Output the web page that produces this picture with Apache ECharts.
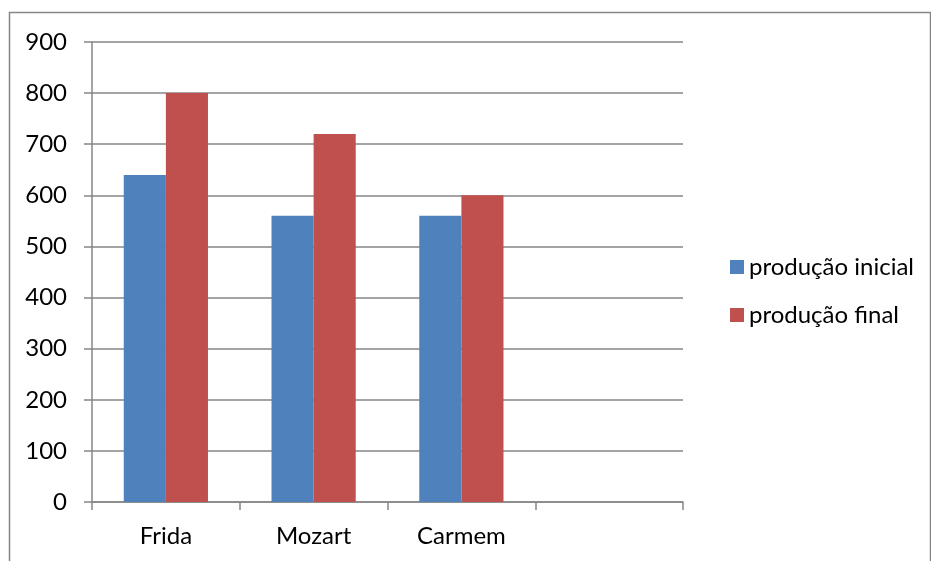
<!DOCTYPE html>
<html>
<head>
<meta charset="utf-8">
<script src="https://cdn.jsdelivr.net/npm/echarts@6/dist/echarts.min.js"></script>
<style>
  html, body { margin: 0; padding: 0; background: #fff; }
  #chart { width: 931px; height: 561px; }
</style>
</head>
<body>
<div id="chart"></div>
<script>
// Production per artist, before and after
var categories = ['Frida', 'Mozart', 'Carmem', ''];
var producaoInicial = [640, 560, 560, null];
var producaoFinal = [800, 720, 600, null];
var seriesNames = ['produção inicial', 'produção final'];
var yTicks = [0, 100, 200, 300, 400, 500, 600, 700, 800, 900];

var FONT = 'Lato, "Open Sans", sans-serif';
var AXIS_GRAY = '#868686';

var chart = echarts.init(document.getElementById('chart'), null, { renderer: 'canvas' });

chart.setOption({
  backgroundColor: '#ffffff',
  animation: false,
  graphic: [{
    // outer chart frame (runs off the right and bottom edges)
    type: 'rect',
    shape: { x: 9.5, y: 12.5, width: 921, height: 600 },
    style: { fill: 'none', stroke: AXIS_GRAY, lineWidth: 1.5 },
    silent: true,
    z: -1
  }],
  grid: { left: 92, top: 42, right: 248, bottom: 59, containLabel: false },
  legend: {
    orient: 'vertical',
    left: 725,
    top: 250,
    itemWidth: 14,
    itemHeight: 14,
    itemGap: 24,
    icon: 'rect',
    textStyle: { fontFamily: FONT, fontSize: 24, color: '#000' },
    data: seriesNames
  },
  xAxis: {
    type: 'category',
    data: categories,
    boundaryGap: true,
    axisLine: { lineStyle: { color: AXIS_GRAY, width: 1.5 } },
    axisTick: { show: true, length: 8, alignWithLabel: false, lineStyle: { color: AXIS_GRAY, width: 1.5 } },
    axisLabel: { fontFamily: FONT, fontSize: 24, color: '#000', margin: 22, interval: 0 },
    splitLine: { show: false }
  },
  yAxis: {
    type: 'value',
    min: yTicks[0],
    max: yTicks[yTicks.length - 1],
    interval: 100,
    axisLine: { show: true, lineStyle: { color: AXIS_GRAY, width: 1.5 } },
    axisTick: { show: true, length: 8, lineStyle: { color: AXIS_GRAY, width: 1.5 } },
    axisLabel: { fontFamily: FONT, fontSize: 24, color: '#000', margin: 25 },
    splitLine: { show: true, lineStyle: { color: AXIS_GRAY, width: 1.5 } }
  },
  series: [
    {
      name: seriesNames[0],
      type: 'bar',
      data: producaoInicial,
      barGap: '0%',
      barCategoryGap: '43%',
      itemStyle: { color: '#4F81BD' }
    },
    {
      name: seriesNames[1],
      type: 'bar',
      data: producaoFinal,
      barGap: '0%',
      barCategoryGap: '43%',
      itemStyle: { color: '#C0504D' }
    }
  ]
});
</script>
</body>
</html>
